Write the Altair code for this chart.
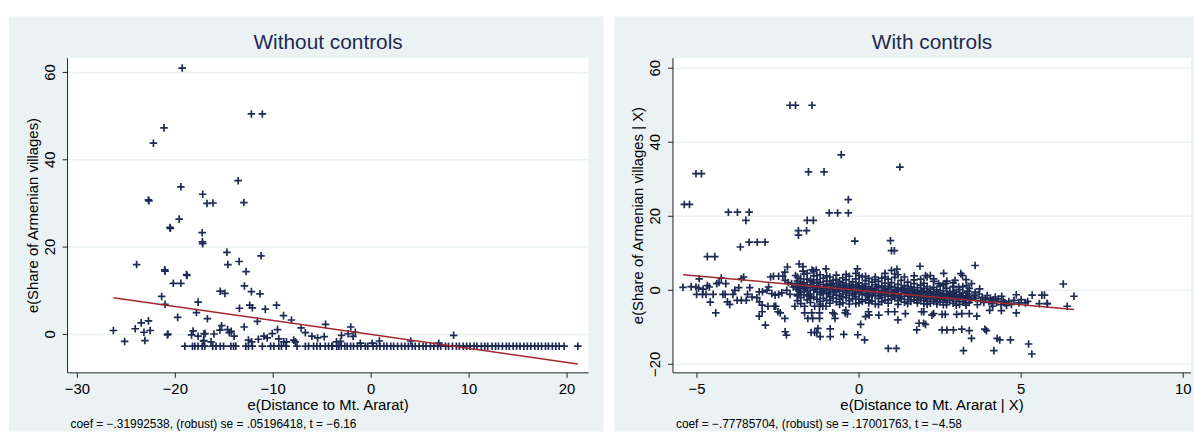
import altair as alt
import pandas as pd

BG = "#eaf2f3"
NAVY = "#1d2a54"
TITLE_C = "#1e2a50"
RED = "#a3282e"
AXIS_C = "#222222"
FONT = "Liberation Sans"
CROSS = "M-1,0L1,0M0,-1L0,1"

# ---------------- Left panel: Without controls ----------------
left_coef = -0.31992538
left_xticks = [-30, -20, -10, 0, 10, 20]
left_xlabels = ["\u221230", "\u221220", "\u221210", "0", "10", "20"]
left_yticks = [0, 20, 40, 60]
left_ylabels = ["0", "20", "40", "60"]
left_upper = [(-19.29, 61.0), (-21.15, 47.3), (-22.23, 43.8), (-12.23, 50.5), (-11.11, 50.5),
              (-13.58, 35.2), (-19.43, 33.8), (-17.2, 32.1), (-22.74, 30.8), (-22.7, 30.6),
              (-16.76, 30.0), (-16.15, 30.1), (-13.0, 30.2), (-19.6, 26.4), (-20.54, 24.5),
              (-20.5, 24.3), (-17.26, 23.3), (-17.23, 21.2), (-17.2, 20.8), (-23.95, 16.0),
              (-21.08, 14.8), (-21.05, 14.5), (-18.85, 13.7), (-18.8, 13.5), (-20.2, 11.7),
              (-19.43, 11.7), (-14.73, 18.8), (-14.63, 16.0), (-13.48, 16.7), (-11.25, 18.0),
              (-12.77, 14.4), (-12.94, 11.1), (-12.23, 9.8), (-11.35, 9.3), (-15.41, 9.9),
              (-14.93, 9.4), (-21.39, 8.7), (-21.05, 6.9), (-17.67, 7.4), (-17.84, 5.0),
              (-19.76, 3.9), (-13.45, 6.0), (-12.4, 6.7), (-12.13, 6.1), (-10.81, 5.8),
              (-9.66, 6.7), (-11.62, 3.0), (-8.95, 4.3), (-8.14, 3.3), (-16.72, 3.6),
              (-12.97, 1.7), (-7.16, 1.5), (-6.72, 0.4), (-6.05, -0.4), (-5.47, -0.8),
              (-4.8, -0.5), (-4.66, 2.3)]
left_lower = [(-26.32, 0.9), (-25.17, -1.6), (-24.09, 1.3), (-23.48, 2.65), (-22.74, 3.1),
              (-23.2, 0.5), (-22.57, 0.9), (-23.1, -1.4), (-20.8, -0.1), (-20.75, 0.1),
              (-18.34, -0.1), (-18.18, 0.8), (-17.67, -0.4), (-17.06, 0.15), (-17.13, -1.5),
              (-15.44, 1.0), (-15.27, 2.0), (-14.66, 1.1), (-14.49, 0.4), (-14.29, 0.7),
              (-13.99, -0.4), (-16.96, 0.2), (-16.05, 0.1), (-17.09, -1.4), (-16.35, -1.7),
              (-12.53, -1.3), (-12.2, -1.7), (-11.52, -1.1), (-10.95, -0.4), (-10.61, -0.8),
              (-10.1, 0.2), (-9.56, 1.1), (-9.43, -1.0), (-8.92, -1.7), (-8.65, -1.7),
              (-7.91, -1.3), (-7.74, -1.7), (-2.09, 1.7), (-3.03, -0.2), (-2.36, 0.15),
              (-1.85, -0.45), (-1.62, 0.5), (-3.54, -1.7), (-3.13, -1.6), (-1.11, -2.0),
              (0.1, -2.0), (0.84, -1.5), (4.04, -1.5), (6.9, -2.0), (8.42, -0.2), (21.1, -2.7)]
left_floor_y = -2.7
left_floor_x = [-19.02, -18.24, -18.0, -17.67, -17.26, -16.99, -16.18, -15.84, -15.41, -15.07,
                -14.32, -14.05, -13.82, -12.8, -12.53, -12.13, -11.11, -10.27, -9.93, -9.43,
                -9.16, -8.68, -7.57, -6.72, -6.39, -5.88, -5.54, -5.2, -4.69, -4.35, -4.02,
                -3.95, -3.51, -3.3, -3.05, -2.7, -2.45, -2.1, -1.8, -1.4, -1.05, -0.6, -0.35,
                0.2, 0.55, 0.9, 1.3, 1.6, 2.0, 2.3, 2.7, 3.1, 3.45, 3.8, 4.2, 4.5, 4.9, 5.3,
                5.6, 6.05, 6.4, 6.8, 7.1, 7.6, 7.9, 8.3, 8.7, 9.0, 9.4, 9.75, 10.1, 10.5, 10.8,
                11.25, 11.6, 11.9, 12.35, 12.7, 13.0, 13.4, 13.8, 14.1, 14.5, 14.85, 15.2,
                15.6, 15.95, 16.3, 16.7, 17.05, 17.4, 17.8, 18.1, 18.5, 18.85, 19.2, 19.7]

# ---------------- Right panel: With controls ----------------
right_coef = -0.77785704
right_xticks = [-5, 0, 5, 10]
right_xlabels = ["\u22125", "0", "5", "10"]
right_yticks = [-20, 0, 20, 40, 60]
right_ylabels = ["\u221220", "0", "20", "40", "60"]
right_outliers = [(-2.13, 50.0), (-1.96, 50.0), (-1.45, 50.0), (-5.03, 31.5), (-4.86, 31.5),
                  (-5.39, 23.2), (-5.23, 23.2), (-4.03, 21.1), (-3.75, 21.1), (-3.39, 21.1),
                  (-3.49, 18.9), (-3.66, 11.7), (-3.39, 13.0), (-3.14, 13.0), (-2.9, 13.0),
                  (-4.68, 9.1), (-4.45, 9.1), (-0.55, 36.6), (-1.56, 32.0), (-1.08, 32.0),
                  (1.26, 33.3), (-0.33, 24.5), (-0.92, 20.9), (-0.66, 20.9), (-0.33, 20.9),
                  (-1.6, 18.9), (-1.41, 18.9), (-1.87, 16.1), (-1.87, 14.9), (-1.62, 16.1),
                  (-0.13, 13.3), (0.97, 13.4), (1.0, 10.7), (1.09, 10.7), (-1.85, 7.1),
                  (-1.73, 6.4), (-1.73, 5.2), (1.88, 6.5), (-1.45, 5.5), (-1.32, 5.5),
                  (-1.02, 5.8), (-0.05, 5.8), (1.17, 5.7), (3.58, 6.7), (6.3, 1.7),
                  (6.63, -1.6), (6.42, -4.3), (5.8, -3.6), (5.72, -1.3)]
right_leftband = [(-5.43, 0.8), (-5.18, 1.0), (-5.03, 0.9), (-4.95, 0.6), (-5.01, -1.1),
                  (-4.83, -1.1), (-4.72, -1.1), (-4.93, 3.1), (-4.81, 0.3), (-4.59, -3.2),
                  (-4.68, 1.3), (-4.62, 0.9), (-4.5, -1.1), (-4.42, -6.1), (-4.39, 1.8),
                  (-4.32, 2.1), (-4.25, 3.3), (-4.2, -1.1), (-4.13, -1.1), (-4.11, 1.8),
                  (-4.06, -3.1), (-3.99, -3.8), (-3.89, -1.1), (-3.76, -2.7), (-3.63, -2.7),
                  (-3.48, -2.7), (-3.83, 0.0), (-3.71, 0.7), (-3.63, 3.1), (-3.56, 3.6),
                  (-3.44, -1.1), (-3.37, 0.7), (-3.3, -1.8), (-3.15, -2.0), (-3.07, -3.1),
                  (-2.99, -4.0), (-3.08, -0.4), (-2.98, -0.4), (-2.84, 0.0), (-2.79, 0.9),
                  (-3.08, -7.0), (-2.99, -5.8), (-2.81, -4.3), (-2.89, -9.4), (-2.73, 3.6),
                  (-2.64, 3.8), (-2.48, 3.8), (-2.35, 3.8), (-2.69, -0.9), (-2.59, -1.3),
                  (-2.48, -1.1), (-2.38, -0.7), (-2.62, -4.3), (-2.57, -4.3), (-2.5, -5.8),
                  (-2.43, -6.1), (-2.29, -7.6), (-2.28, -11.2), (-2.24, -12.1), (-2.29, 4.9),
                  (-2.21, 6.3), (-2.28, 2.7), (-2.18, 2.1), (-2.08, 1.8), (-2.23, 0.0),
                  (-2.13, -1.1), (-2.03, 0.9), (-1.92, 1.8), (-1.84, 1.3), (-1.98, -4.3),
                  (-1.96, 4.0), (-1.89, -1.1)]
right_low = [(-1.68, -4.3), (-1.37, -4.3), (-1.22, -4.3), (-1.12, -4.3), (-1.02, -4.3),
             (-1.68, -6.1), (-1.46, -6.1), (-1.22, -6.1), (-1.58, -7.6), (-1.43, -7.6),
             (-1.22, -7.6), (-0.81, -6.1), (-0.76, -6.4), (-0.43, -6.1), (-0.36, -6.4),
             (-0.74, -7.6), (-0.41, -5.4), (-1.27, -10.3), (-1.3, -11.4), (-1.2, -12.5),
             (-1.48, -11.4), (-1.37, -11.4), (-0.89, -10.4), (-0.89, -12.5), (-0.47, -11.9),
             (-0.04, -12.0), (0.17, -13.4), (0.05, -9.2), (0.2, -7.1), (0.29, -5.8),
             (0.31, -6.7), (0.61, -6.7), (0.9, -5.8), (1.1, -5.8), (1.43, -6.3), (1.2, -8.0),
             (0.9, -15.7), (1.15, -15.7), (1.78, -10.7), (1.85, -8.9), (1.99, -8.9),
             (1.93, -5.8), (2.0, -5.8), (2.05, -9.2), (2.25, -6.7), (2.3, -6.3), (2.56, -6.5),
             (2.66, -6.5), (3.01, -6.5), (3.17, -6.3), (3.4, -6.3), (3.63, -7.0), (4.03, -5.4),
             (4.39, -5.5), (4.85, -6.1), (2.56, -10.7), (2.71, -10.7), (2.91, -10.7),
             (3.17, -10.5), (3.4, -10.9), (3.88, -10.5), (3.93, -10.9), (3.47, -13.0),
             (4.26, -13.0), (4.34, -13.4), (4.67, -13.4), (3.22, -16.3), (4.16, -16.3),
             (5.23, -14.5), (5.33, -17.2)]
right_rightband = [(2.61, 4.6), (3.14, 4.5), (3.19, 4.0), (2.05, 4.0), (2.1, 3.6), (2.2, 4.0),
                   (2.3, 3.1), (2.45, 1.8), (2.66, 1.8), (2.71, 2.5), (2.91, 1.1), (2.96, 2.7),
                   (3.07, 0.9), (3.3, 2.9), (3.32, 1.3), (3.47, 1.8), (4.85, -1.2), (5.34, -1.3),
                   (5.64, -1.3), (4.93, -3.4), (5.13, -3.4), (5.56, -3.6), (5.81, -3.6),
                   (3.55, -1.5), (3.6, -2.2), (3.7, -1.0), (3.75, -2.8), (3.8, -1.9),
                   (3.85, -3.3), (3.9, -2.4), (3.95, -1.4), (4.0, -3.0), (4.05, -2.1),
                   (4.1, -3.6), (4.15, -2.6), (4.2, -1.8), (4.25, -3.2), (4.3, -2.3),
                   (4.38, -3.9), (4.45, -2.9), (4.5, -3.4), (4.55, -4.1), (4.62, -3.0),
                   (4.7, -3.8), (4.78, -2.7), (4.4, -1.6), (3.65, -3.9), (4.12, -4.3),
                   (3.58, -0.5), (3.72, 0.4), (3.35, -0.2), (5.0, -2.5), (5.2, -3.0)]
right_core = [(-1.9, [2.5, 0.3, -1.5, -2.8]), (-1.8, [1.2, -0.6, 3.1, -2.0]),
              (-1.7, [2.0, 0.5, -1.2, 4.4]), (-1.6, [1.5, -0.2, -2.6, 3.0]),
              (-1.5, [2.6, 0.8, -1.0, -3.3]), (-1.4, [1.9, 0.1, -1.8, 3.9, 5.2]),
              (-1.3, [1.3, -0.5, 2.8, -2.4]), (-1.2, [2.2, 0.6, -1.1, -3.0, 4.2]),
              (-1.1, [1.6, -0.1, -2.2, 3.3]), (-1.0, [2.5, 0.9, -0.8, -2.7, 1.4]),
              (-0.9, [1.8, 0.2, -1.6, 3.6, -3.5]), (-0.8, [1.1, -0.4, 2.7, -2.1, 0.6]),
              (-0.7, [1.9, 0.4, -1.3, -3.1, 4.1]), (-0.6, [1.4, -0.2, 2.4, -2.4, 0.9]),
              (-0.5, [2.0, 0.6, -1.0, -3.4, 3.4]), (-0.4, [1.2, -0.6, 2.8, -2.0, 0.2]),
              (-0.3, [1.7, 0.3, -1.4, 3.8, -2.8]), (-0.2, [0.9, -0.8, 2.3, -2.3, 1.3]),
              (-0.1, [1.5, 0.0, -1.7, 3.1, -3.6]), (0.0, [0.8, -0.6, 2.0, -2.4, 4.0]),
              (0.1, [1.3, 0.2, -1.2, 3.6, -3.0]), (0.2, [0.6, -0.9, 2.6, -2.6, 1.7]),
              (0.3, [1.0, -0.3, -1.8, 3.2, -3.4]), (0.4, [0.4, -1.2, 2.2, -2.9]),
              (0.5, [1.5, 0.1, -1.5, 3.6, -3.7]), (0.6, [0.7, -0.7, 2.4, -2.2]),
              (0.7, [1.2, -0.2, -1.9, 3.3, -3.1]), (0.8, [0.3, -1.1, 1.9, -2.7, 4.6]),
              (0.9, [0.9, -0.5, -1.6, 3.0, -3.5]), (1.0, [0.2, -1.3, 2.1, -2.4, 5.4]),
              (1.1, [0.8, -0.6, -2.0, 3.5]), (1.2, [0.1, -1.5, 1.6, -2.8, 4.2]),
              (1.3, [0.6, -0.9, -2.3, 2.7]), (1.4, [-0.1, -1.6, 1.3, -3.2]),
              (1.5, [0.4, -1.1, -2.5, 2.2, 1.0]), (1.6, [-0.3, -1.8, 0.9, -3.0]),
              (1.7, [0.2, -1.3, -2.6, 1.8, 2.8]), (1.8, [-0.5, -2.0, 0.7, -3.4]),
              (1.9, [0.0, -1.6, -2.8, 1.4, 3.0]), (2.0, [-0.7, -2.2, 0.5, -3.6]),
              (2.1, [-0.2, -1.5, -2.9, 1.0]), (2.2, [-0.9, -2.3, 0.3, -3.5]),
              (2.3, [-0.4, -1.8, -3.0, 0.8]), (2.4, [-1.1, -2.5, 0.1, -3.7]),
              (2.5, [-0.6, -2.0, -3.2, 1.2]), (2.6, [-1.3, -2.6, -0.1, -3.9]),
              (2.7, [-0.8, -2.1, -3.3, 0.6]), (2.8, [-1.5, -2.8, -0.3]),
              (2.9, [-1.0, -2.3, -3.5, 0.9]), (3.0, [-1.7, -3.0, -0.5]),
              (3.1, [-1.2, -2.5, -3.8, 0.2]), (3.2, [-1.9, -3.1, -0.7]),
              (3.3, [-1.4, -2.7, -4.0]), (3.4, [-2.1, -3.3, -1.0, 0.5])]
right_core_extra = [(-1.95, 1.0), (-1.85, -0.2), (-1.75, 1.6), (-1.65, 0.4), (-1.55, -1.5),
                    (-1.45, 2.2), (-1.35, 0.3), (-1.25, 1.0), (-1.15, -0.6), (-1.05, 0.5),
                    (-0.95, -1.0), (-0.85, 1.5), (-0.75, -0.3), (-0.65, 0.2), (-0.55, -1.7),
                    (-0.45, 0.8), (-0.35, -0.1), (-0.25, 0.5), (-0.15, -1.0), (-0.05, 0.9),
                    (0.05, -0.3), (0.15, 0.4), (0.25, -1.4), (0.35, 0.1), (0.45, -0.6),
                    (0.55, 0.9), (0.65, -1.3), (0.75, 0.0), (0.85, -0.4), (0.95, 1.1),
                    (1.05, -0.8), (1.15, -0.2), (1.25, -1.9), (1.35, 0.3), (1.45, -0.7),
                    (1.55, -1.6), (1.65, 0.1), (1.75, -0.9), (1.85, -1.2), (1.95, -0.3),
                    (2.05, -1.9), (2.15, -0.6), (2.25, -1.4), (2.35, -2.2), (2.45, -0.8),
                    (2.55, -1.6), (2.65, -2.3), (2.75, -1.2), (2.85, -1.9), (2.95, -0.6),
                    (3.05, -2.2), (3.15, -1.5), (3.25, -2.4), (3.35, -1.8), (3.45, -2.6),
                    (-1.9, 3.6), (-1.6, 4.6), (-1.3, 4.0), (-1.0, 3.9), (-0.7, 2.9),
                    (-0.4, 4.3), (-0.1, 4.6), (0.2, 3.8), (0.5, 2.9), (0.8, 3.6), (1.1, 4.4),
                    (1.4, 3.6), (1.7, 3.9), (2.0, 1.9), (2.3, 2.4), (2.6, 1.6), (2.9, 2.0),
                    (3.2, 1.0), (-1.8, -3.6), (-1.5, -2.1), (-1.2, -3.7), (-0.9, -2.7),
                    (-0.6, -3.8), (-0.3, -3.7), (0.0, -3.4), (0.3, -2.6), (0.6, -3.8),
                    (0.9, -2.6), (1.2, -3.8), (1.5, -3.6), (1.8, -2.6), (2.1, -3.8),
                    (2.4, -3.1), (2.7, -3.9), (3.0, -4.0), (3.3, -3.5)]

left_points = left_upper + left_lower + [(v, left_floor_y) for v in left_floor_x]
right_points = (right_outliers + right_leftband + right_low + right_rightband
                + [(cx, cy) for cx, ys in right_core for cy in ys] + right_core_extra)


def panel(pts, coef, xdom, ydom, xticks, xlabels, yticks, ylabels, w, h, bg_right,
          title, xtitle, ytitle, note):
    df = pd.DataFrame(pts, columns=["x", "y"])
    xs = [float(df["x"].min()), float(df["x"].max())]
    fit = pd.DataFrame({"x": xs, "y": [coef * v for v in xs]})
    xt = pd.DataFrame({"t": xticks, "lab": xlabels})
    yt = pd.DataFrame({"t": yticks, "lab": ylabels})
    xscale = alt.Scale(domain=xdom, nice=False, zero=False)
    yscale = alt.Scale(domain=ydom, nice=False, zero=False)
    one = alt.Data(values=[{"a": 1}])
    X = lambda f: alt.X(f, scale=xscale, axis=None)
    Y = lambda f: alt.Y(f, scale=yscale, axis=None)

    bg = alt.Chart(one).mark_rect(fill=BG).encode(
        x=alt.value(-59), x2=alt.value(bg_right), y=alt.value(-42), y2=alt.value(376))
    white = alt.Chart(one).mark_rect(fill="white").encode(
        x=alt.value(0), x2=alt.value(w), y=alt.value(0), y2=alt.value(h))
    grid = alt.Chart(yt).mark_rule(color=BG, strokeWidth=1.5).encode(
        y=Y("t:Q"), x=alt.value(0), x2=alt.value(w))
    points = alt.Chart(df).mark_point(shape=CROSS, filled=False, color=NAVY, size=58,
                                      strokeWidth=1.7, opacity=1).encode(
        x=X("x:Q"), y=Y("y:Q"))
    line = alt.Chart(fit).mark_line(color=RED, strokeWidth=1.5).encode(
        x=X("x:Q"), y=Y("y:Q"))

    xdomain = alt.Chart(one).mark_rule(color=AXIS_C, strokeWidth=1).encode(
        x=alt.value(0), x2=alt.value(w), y=alt.value(h))
    ydomain = alt.Chart(one).mark_rule(color=AXIS_C, strokeWidth=1).encode(
        x=alt.value(0), y=alt.value(0), y2=alt.value(h))
    xtick = alt.Chart(xt).mark_rule(color=AXIS_C, strokeWidth=1).encode(
        x=X("t:Q"), y=alt.value(h), y2=alt.value(h + 5))
    ytick = alt.Chart(yt).mark_rule(color=AXIS_C, strokeWidth=1).encode(
        y=Y("t:Q"), x=alt.value(-5), x2=alt.value(0))
    xlab = alt.Chart(xt).mark_text(fontSize=15, font=FONT, color="black", align="center",
                                   baseline="top").encode(
        x=X("t:Q"), y=alt.value(h + 9), text="lab:N")
    ylab = alt.Chart(yt).mark_text(fontSize=15, font=FONT, color="black", align="center",
                                   baseline="alphabetic", angle=270).encode(
        y=Y("t:Q"), x=alt.value(-13), text="lab:N")
    xttl = alt.Chart(one).mark_text(text=xtitle, fontSize=15, font=FONT, color="black",
                                    align="center", baseline="alphabetic").encode(
        x=alt.value(w / 2), y=alt.value(h + 37))
    yttl = alt.Chart(one).mark_text(text=ytitle, fontSize=15, font=FONT, color="black",
                                    align="center", baseline="alphabetic", angle=270).encode(
        x=alt.value(-30), y=alt.value(h / 2))
    ttl = alt.Chart(one).mark_text(text=title, fontSize=21, font=FONT, color=TITLE_C,
                                   align="center", baseline="alphabetic").encode(
        x=alt.value(w / 2), y=alt.value(-9))
    nt = alt.Chart(one).mark_text(text=note, fontSize=12, font=FONT, color="black",
                                  align="left", baseline="alphabetic").encode(
        x=alt.value(3), y=alt.value(373))
    return alt.layer(bg, white, grid, points, line, xdomain, ydomain, xtick, ytick,
                     xlab, ylab, xttl, yttl, ttl, nt).properties(width=w, height=h)


left = panel(left_points, left_coef, [-31.0, 22.2], [-8.8, 63.25],
             left_xticks, left_xlabels, left_yticks, left_ylabels, 525, 317, 540,
             "Without controls", "e(Distance to Mt. Ararat)", "e(Share of Armenian villages)",
             "coef = \u2212.31992538, (robust) se = .05196418, t = \u22126.16")
right = panel(right_points, right_coef, [-5.74, 10.24], [-22.3, 62.7],
              right_xticks, right_xlabels, right_yticks, right_ylabels, 522, 317, 525,
              "With controls", "e(Distance to Mt. Ararat | X)",
              "e(Share of Armenian villages | X)",
              "coef = \u2212.77785704, (robust) se = .17001763, t = \u22124.58")

chart = alt.hconcat(left, right, spacing=9).properties(
    padding={"left": 0, "top": 6, "right": 0, "bottom": 0}
).configure_view(stroke="transparent").configure(background="white")

chart.save("out.html", embed_options={"renderer": "svg", "actions": False})
